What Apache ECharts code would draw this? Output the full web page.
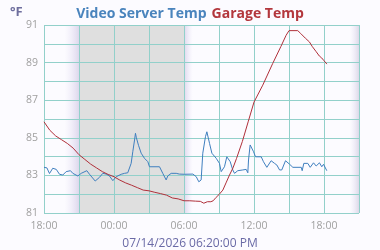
<!DOCTYPE html>
<html><head><meta charset="utf-8">
<script src="https://cdn.jsdelivr.net/npm/echarts@6/dist/echarts.min.js"></script>
<style>html,body{margin:0;padding:0;background:#fcfbff;}#c{width:380px;height:250px;}</style>
</head><body><div id="c"></div>
<script>
// hours since 07/13/2026 18:00
const garageHours = [0,0.5,1.0,1.5,2.0,2.5,3.0,3.5,4.0,4.5,5.0,5.5,6.0,6.5,7.0,7.5,8.0,8.5,9.0,9.5,10.0,10.5,11.0,11.5,12.0,12.5,13.0,13.4,13.7,14.0,14.3,14.5,14.75,15.0,15.33,15.6,15.9,16.2,16.5,17.0,17.5,18.0,18.75,19.6,20.3,20.75,21.0,21.75,22.0,22.4,22.75,23.0,23.33,23.6,23.8,24.0,24.25];
const garageTemps = [85.85,85.4,85.1,84.9,84.7,84.45,84.1,83.85,83.6,83.4,83.2,83.05,82.93,82.75,82.6,82.48,82.35,82.22,82.18,82.1,82.03,81.95,81.8,81.75,81.65,81.65,81.63,81.62,81.52,81.6,81.6,81.65,81.83,81.98,82.22,82.6,83.02,83.4,83.9,84.8,85.85,86.9,87.8,88.95,89.85,90.45,90.7,90.7,90.55,90.3,90.1,89.85,89.58,89.35,89.25,89.1,88.92];
const serverHours = [0,0.25,0.47,0.75,1.05,1.33,1.61,1.9,2.27,2.47,2.9,3.19,3.67,3.9,4.39,4.76,5.04,5.33,5.61,5.9,6.19,6.62,6.9,7.18,7.33,7.47,7.61,7.76,7.84,7.92,7.98,8.1,8.33,8.61,8.9,9.04,9.9,10.18,10.47,10.61,10.9,11.33,11.6,12.04,12.19,12.76,13.05,13.27,13.47,13.61,13.84,13.96,14.19,14.39,14.76,15.04,15.19,15.47,15.67,15.84,15.96,16.18,16.33,16.61,17.04,17.33,17.47,17.53,17.67,17.76,17.96,18.13,18.62,18.81,19.1,19.47,19.76,19.96,20.19,20.38,20.7,21.04,21.33,22.05,22.13,22.27,22.61,22.82,23.1,23.33,23.61,23.81,23.96,24.24];
const serverTemps = [83.43,83.4,83.1,83.38,83.32,83.06,83.02,83.2,83.25,83.11,82.97,83.11,83.25,83.06,82.7,82.9,83.11,83.07,82.97,82.72,82.93,83.06,83.11,83.14,83.2,83.64,84.26,84.88,85.24,85.0,85.1,84.6,84.18,83.91,83.73,83.46,83.46,83.11,82.76,82.97,83.11,83.11,83.07,83.06,83.11,83.07,82.93,82.66,82.76,84.18,85.06,85.32,84.7,84.18,83.91,83.64,83.2,83.46,83.99,83.91,83.73,83.29,83.11,83.25,83.29,83.32,83.14,83.82,84.62,84.65,84.26,83.99,83.99,83.73,83.43,83.78,83.64,83.55,83.29,83.29,83.78,83.6,83.43,83.43,83.25,83.64,83.64,83.43,83.67,83.5,83.67,83.46,83.59,83.25];
const yTicks = [81,83,85,87,89,91];
const xTickLabels = ['18:00','00:00','06:00','12:00','18:00'];
const nightBand = [3, 12];
const duskLeft = [1.75, 3];
const dawn = [12, 12.75];
const duskRight = [26.2, 27];
const seriesNames = ['Video Server Temp','Garage Temp'];
const dateLabel = '07/14/2026 06:20:00 PM';

const zip = (a,b)=>a.map((x,i)=>[x,b[i]]);
const grad = (c0,c1)=>({type:'linear',x:0,y:0,x2:1,y2:0,colorStops:[{offset:0,color:c0},{offset:1,color:c1}]});
const grid = '#92d0ca';
const chart = echarts.init(document.getElementById('c'), null, {renderer:'canvas'});
chart.setOption({
  backgroundColor:'#fcfbff',
  animation:false,
  title:[
    {text:'{a|'+seriesNames[0]+'} {b|'+seriesNames[1]+'}', left:'center', top:0,
     textStyle:{rich:{a:{color:'#4a84bd',fontSize:14,fontWeight:'bold',fontFamily:'Open Sans'},
                      b:{color:'#b3373d',fontSize:14,fontWeight:'bold',fontFamily:'Open Sans'}}}},
    {text:'°F', left:5, top:1, textStyle:{color:'#6e6e9e',fontSize:13,fontWeight:'bold',fontFamily:'Open Sans'}},
    {text:dateLabel, left:'center', top:233, textStyle:{color:'#6a6aa6',fontSize:12,fontWeight:'normal',fontFamily:'Open Sans'}}
  ],
  grid:{left:44,top:25,width:315,height:188,containLabel:false},
  xAxis:{type:'value',min:0,max:27,interval:3,z:2,
    axisLine:{show:false},axisTick:{show:false},
    splitLine:{show:true,lineStyle:{color:grid,width:1}},
    axisLabel:{color:'#a0a0a0',fontSize:10.5,fontFamily:'Open Sans',margin:8,
      formatter:v=>{const i=xTickLabels.length; return (v%6===0 && v/6<i)?xTickLabels[v/6]:'';}}},
  yAxis:{type:'value',min:81,max:91,interval:1,z:2,
    axisLine:{show:false},axisTick:{show:false},
    splitLine:{show:true,lineStyle:{color:grid,width:1}},
    axisLabel:{color:'#a0a0a0',fontSize:10.5,fontFamily:'Open Sans',margin:6,
      formatter:v=>yTicks.includes(v)?String(v):''}},
  series:[
    {type:'line',data:[],z:1,silent:true,
     markArea:{silent:true,data:[
       [{xAxis:nightBand[0],itemStyle:{color:'#dfdfdf'}},{xAxis:nightBand[1]}],
       [{xAxis:duskLeft[0],itemStyle:{color:grad('rgba(236,232,248,0)','#ddd7ec')}},{xAxis:duskLeft[1]}],
       [{xAxis:dawn[0],itemStyle:{color:grad('#ddd7ec','rgba(236,232,248,0)')}},{xAxis:dawn[1]}],
       [{xAxis:duskRight[0],itemStyle:{color:grad('rgba(236,232,248,0)','#dcd8e8')}},{xAxis:duskRight[1]}]
     ]}},
    {name:seriesNames[0],type:'line',z:3,data:zip(serverHours,serverTemps),showSymbol:false,
     lineStyle:{color:'#3f7fbf',width:1},itemStyle:{color:'#3f7fbf'}},
    {name:seriesNames[1],type:'line',z:3,data:zip(garageHours,garageTemps),showSymbol:false,
     lineStyle:{color:'#b0303a',width:1},itemStyle:{color:'#b0303a'}}
  ]
});
</script></body></html>
